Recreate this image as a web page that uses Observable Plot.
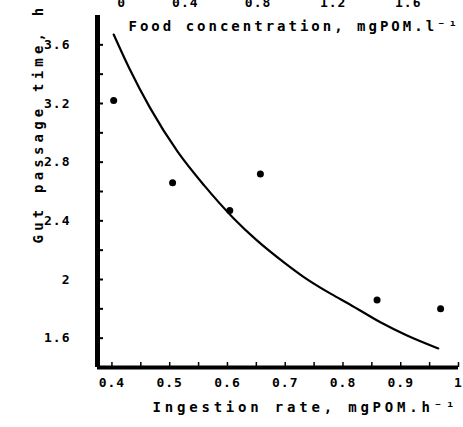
<!DOCTYPE html>
<html><head><meta charset="utf-8">
<script src="https://cdn.jsdelivr.net/npm/d3@7"></script>
<script src="https://cdn.jsdelivr.net/npm/@observablehq/plot@0.6"></script>
<style>
body{margin:0;background:#fff;}
text[aria-label="ytitle"], g[aria-label="ytitle"] text{letter-spacing:4.2px;}
text[aria-label="xtitle"], g[aria-label="xtitle"] text{letter-spacing:3.8px;}
text[aria-label="ftitle"], g[aria-label="ftitle"] text{letter-spacing:3px;}
g[aria-label$="tick label"] text{letter-spacing:1px;}
</style></head><body><div id="chart"></div>
<script>
// Observed points
const ingestion = [0.403, 0.505, 0.604, 0.657, 0.859, 0.969];
const gutTime   = [3.22, 2.66, 2.47, 2.72, 1.86, 1.80];
// Fitted curve
const fitX = [0.403, 0.43, 0.466, 0.514, 0.56, 0.61, 0.65, 0.70, 0.731, 0.78, 0.812, 0.864, 0.91, 0.965];
const fitY = [3.67, 3.44, 3.17, 2.87, 2.64, 2.42, 2.27, 2.11, 2.02, 1.90, 1.83, 1.71, 1.62, 1.53];
// Axes
const xDomain = [0.375, 1];
const yDomain = [1.4, 3.8];
const xTickValues = [0.4, 0.5, 0.6, 0.7, 0.8, 0.9, 1];
const xMinorTicks = [0.4, 0.45, 0.5, 0.55, 0.6, 0.65, 0.7, 0.75, 0.8, 0.85, 0.9, 0.95, 1];
const yTickValues = [1.6, 2, 2.4, 2.8, 3.2, 3.6];
const yMinorTicks = [1.6, 1.8, 2, 2.2, 2.4, 2.6, 2.8, 3, 3.2, 3.4, 3.6];
const foodTickLabels = ["0", "0.4", "0.8", "1.2", "1.6"];
const foodTickAt = [0.417, 0.527, 0.653, 0.783, 0.913];
const xTitle = "Ingestion rate, mgPOM.h⁻¹";
const yTitle = "Gut passage time, h";
const foodTitle = "Food concentration, mgPOM.l⁻¹";

const points = ingestion.map((x, i) => ({x, y: gutTime[i]}));
const fit = fitX.map((x, i) => ({x, y: fitY[i]}));
const foodLabel = new Map(foodTickAt.map((v, i) => [v, foodTickLabels[i]]));

const chart = Plot.plot({
  width: 463, height: 427,
  marginLeft: 97, marginRight: 5, marginTop: 15, marginBottom: 60,
  style: {fontFamily: "DejaVu Sans Mono", fontSize: "13px", fontWeight: "bold", background: "white", color: "black", overflow: "visible"},
  x: {domain: xDomain},
  y: {domain: yDomain},
  marks: [
    Plot.axisY(yMinorTicks, {tickSize: 6, dx: 6, tickFormat: () => "", label: null, strokeWidth: 2}),
    Plot.axisX(xMinorTicks, {tickSize: 5, dy: -5, tickFormat: () => "", label: null, strokeWidth: 1.5}),
    Plot.axisY(yTickValues, {tickSize: 0, tickPadding: 27, tickFormat: d => String(d), label: null, fontSize: 13}),
    Plot.axisX(xTickValues, {tickSize: 0, tickPadding: 10, tickFormat: d => String(d), label: null, fontSize: 13}),
    Plot.axisX(foodTickAt, {anchor: "top", tickSize: 0, tickPadding: 9, tickFormat: d => foodLabel.get(d), label: null, fontSize: 13}),
    Plot.ruleX([xDomain[0]], {stroke: "black", strokeWidth: 5}),
    Plot.ruleY([yDomain[0]], {stroke: "black", strokeWidth: 4}),
    Plot.line(fit, {x: "x", y: "y", curve: "monotone-x", stroke: "black", strokeWidth: 2.2}),
    Plot.dot(points, {x: "x", y: "y", r: 3.5, fill: "black", stroke: "none"}),
    Plot.text([yTitle], {text: d => d, frameAnchor: "top-left", rotate: -90, textAnchor: "end", dx: -64, dy: -12, fontSize: 14, ariaLabel: () => "ytitle"}),
    Plot.text([xTitle], {text: d => d, frameAnchor: "bottom-left", textAnchor: "start", dx: 55, dy: 44, fontSize: 14, ariaLabel: () => "xtitle"}),
    Plot.text([foodTitle], {text: d => d, frameAnchor: "top-left", textAnchor: "start", dx: 31, dy: 6, fontSize: 14, ariaLabel: () => "ftitle"})
  ]
});
document.getElementById("chart").append(chart);
</script>
</body></html>
